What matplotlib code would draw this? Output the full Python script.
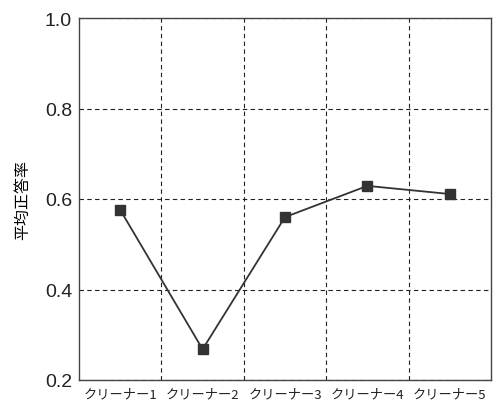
import matplotlib
matplotlib.use('Agg')
import numpy as np
from matplotlib import pyplot as plt

plt.rcParams['font.family'] = ['Liberation Sans', 'Noto Sans CJK JP', 'DejaVu Sans']

categories = ['クリーナー1', 'クリーナー2', 'クリーナー3', 'クリーナー4', 'クリーナー5']
mean_acc = [0.576, 0.268, 0.560, 0.629, 0.611]
yticks = [0.2, 0.4, 0.6, 0.8, 1.0]

fig = plt.figure(figsize=(4.94, 4.06), dpi=100)
ax = fig.add_axes([79/494, 1-381/406, 412/494, 362/406])

x = np.arange(len(categories))
ax.plot(x, mean_acc, color='#333333', lw=1.3, marker='s', ms=7, zorder=3)

ax.set_xlim(-0.5, len(categories)-0.5)
ax.set_ylim(0.2, 1.0)
ax.set_xticks(x)
ax.set_xticklabels(categories, fontsize=9.5, family=['Noto Sans CJK JP', 'DejaVu Sans'])
ax.set_yticks(yticks)
ax.set_yticklabels(['%.1f' % v for v in yticks], fontsize=14)
ax.tick_params(axis='y', length=0, pad=5, colors='#222222')
ax.tick_params(axis='x', length=0, pad=5, colors='#222222')
ax.set_xticks(x[:-1] + 0.5, minor=True)
ax.tick_params(which='minor', length=0)
ax.grid(True, which='minor', axis='x', ls=(0, (4, 3)), color='#222222', lw=0.8)
ax.grid(True, which='major', axis='y', ls=(0, (4, 3)), color='#222222', lw=0.8)
for s in ax.spines.values():
    s.set_color('#444444')
    s.set_linewidth(1.0)

ax.set_ylabel('平均正答率', fontsize=11.5, family=['Noto Sans CJK JP', 'DejaVu Sans'], labelpad=10)

fig.savefig('out.png', dpi=100)
